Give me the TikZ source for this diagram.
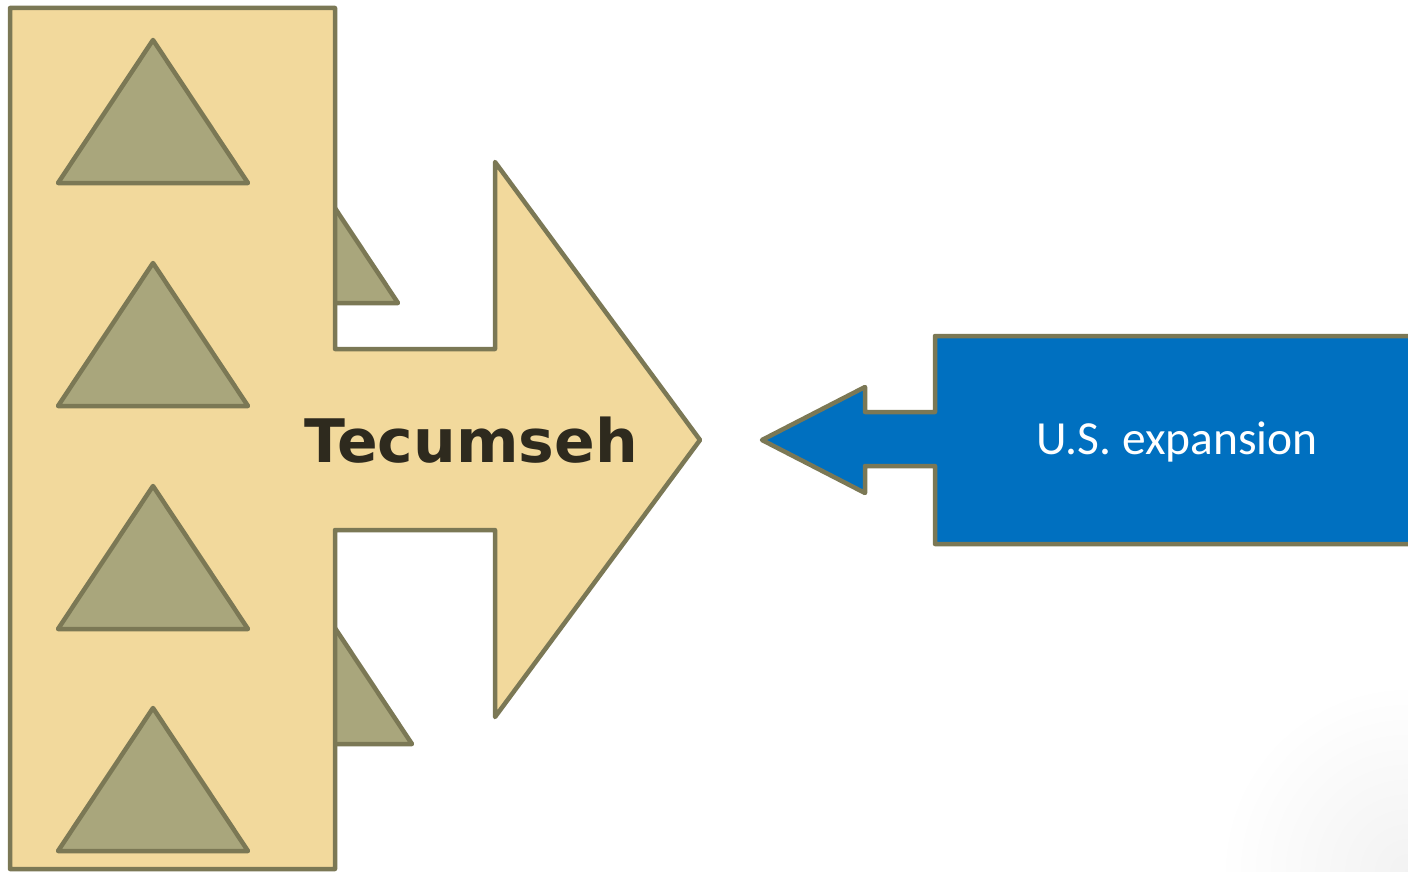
\documentclass[tikz,border=0pt]{standalone}
\usepackage{fontspec}
\newfontfamily\tecfont{DejaVu Sans}
\newfontfamily\usfont{Carlito}
\definecolor{edgeol}{HTML}{7B7855}
\definecolor{tanfill}{HTML}{F2D99C}
\definecolor{trifill}{HTML}{A9A67C}
\definecolor{bluefill}{HTML}{0070C0}
\definecolor{darktext}{HTML}{2E2A1E}
\begin{document}
\begin{tikzpicture}[x=1pt,y=-1pt,
  shapeline/.style={draw=edgeol,line width=4.5pt,line join=round},
  trishape/.style={shapeline,fill=trifill},
  tanshape/.style={shapeline,fill=tanfill},
  blueshape/.style={shapeline,fill=bluefill},
  tectext/.style={text=darktext,font=\tecfont\bfseries\fontsize{60}{63}\selectfont,inner sep=0pt},
  ustext/.style={text=white,font=\usfont\fontsize{47.5}{50}\selectfont,inner sep=0pt}]
\useasboundingbox (0,0) rectangle (1408,872);
\clip (0,0) rectangle (1408,872);
\fill[white] (0,0) rectangle (1408,872);
\shade[inner color=black!5,outer color=white] (1408,872) circle (190);
% hidden triangles behind the tan shape
\draw[trishape] (303,160) -- (398,303) -- (208,303) -- cycle;
\draw[trishape] (317,601) -- (412,744) -- (222,744) -- cycle;
% tan rectangle with arrow
\draw[tanshape] (10,8) -- (335,8) -- (335,349) -- (495,349) -- (495,162) -- (700,440)
  -- (495,717) -- (495,530) -- (335,530) -- (335,869) -- (10,869) -- cycle;
% inner triangles
\foreach \ty in {40,263,486,708}{
  \draw[trishape] (153,\ty) -- (248,\ty+143) -- (58,\ty+143) -- cycle;
}
\node[tectext] (tec) at (471,440) {Tecumseh};
% blue arrow
\draw[blueshape] (1425,336) -- (935,336) -- (935,412) -- (865,412) -- (865,387) -- (762,440)
  -- (865,493) -- (865,466) -- (935,466) -- (935,544) -- (1425,544);
\node[ustext] (us) at (1177,442) {U.S. expansion};
\end{tikzpicture}
\end{document}
